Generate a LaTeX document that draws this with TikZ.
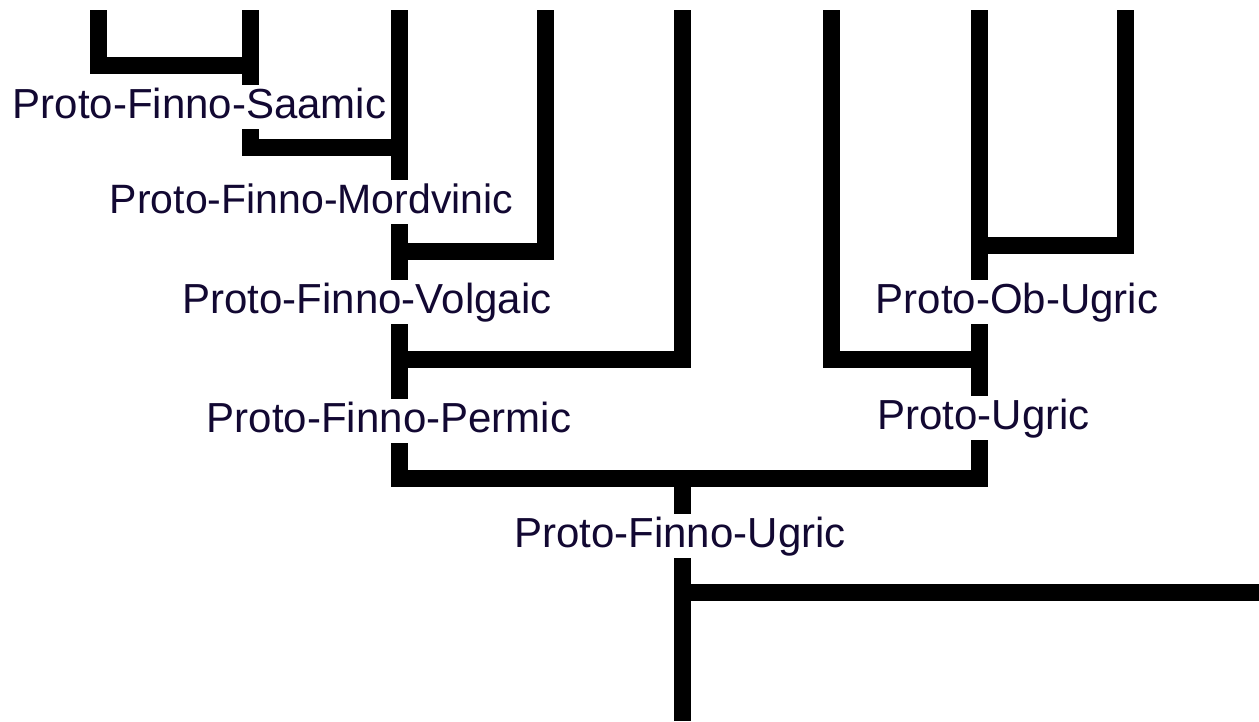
\documentclass[tikz,border=0pt]{standalone}
\usepackage{fontspec}
\setmainfont{Liberation Sans}
\definecolor{labelc}{RGB}{18,8,50}
\begin{document}
\begin{tikzpicture}[x=1pt,y=-1pt,
  branch/.style={line width=17pt,line join=miter,line cap=butt,draw=black},
  lab/.style={anchor=base,inner xsep=0pt,inner ysep=2pt,text height=31pt,text depth=9pt,
    font=\fontsize{42}{50}\selectfont,text=labelc}]
\useasboundingbox (0,0) rectangle (1259,721);
\fill[white] (0,0) rectangle (1259,721);
% leaf tops
\coordinate (la) at (98.5,10);
\coordinate (lb) at (250.5,10);
\coordinate (lc) at (399,10);
\coordinate (ld) at (545,10);
\coordinate (le) at (682.5,10);
\coordinate (lf) at (831.5,10);
\coordinate (lg) at (979.5,10);
\coordinate (lh) at (1125.5,10);
% junctions
\coordinate (j1) at (250.5,65.5);
\coordinate (j2) at (399,147);
\coordinate (j3) at (399,251);
\coordinate (j4) at (399,359.5);
\coordinate (j5) at (682.5,478);
\coordinate (j6) at (682.5,592.5);
\coordinate (j7) at (979.5,359.5);
\coordinate (j8) at (979.5,245);
\coordinate (root) at (682.5,721);
\coordinate (rt) at (1259,592.5);
% labels
\node[lab] (sa) at (199.5,118) {Proto-Finno-Saamic};
\node[lab,font=\fontsize{41}{50}\selectfont] (mo) at (311.5,213) {Proto-Finno-Mordvinic};
\node[lab] (vo) at (367,313) {Proto-Finno-Volgaic};
\node[lab] (pe) at (389,432) {Proto-Finno-Permic};
\node[lab] (fu) at (680,547) {Proto-Finno-Ugric};
\node[lab] (ob) at (1017,313) {Proto-Ob-Ugric};
\node[lab] (ug) at (983.5,429) {Proto-Ugric};
% branches
\draw[branch] (la) |- (j1);
\draw[branch] (lb) -- (sa.north -| lb);
\draw[branch] (sa.south -| lb) |- (j2);
\draw[branch] (lc) -- (mo.north -| lc);
\draw[branch] (mo.south -| lc) -- (vo.north -| lc);
\draw[branch] (ld) |- (j3);
\draw[branch] (vo.south -| lc) -- (pe.north -| lc);
\draw[branch] (le) |- (j4);
\draw[branch] (pe.south -| lc) |- (j5) -| (ug.south -| lg);
\draw[branch] (j5) -- (fu.north -| j5);
\draw[branch] (fu.south -| j5) -- (root);
\draw[branch] (j6) -- (rt);
\draw[branch] (lf) |- (j7);
\draw[branch] (lg) -- (ob.north -| lg);
\draw[branch] (lh) |- (j8);
\draw[branch] (ob.south -| lg) -- (ug.north -| lg);
\end{tikzpicture}
\end{document}
